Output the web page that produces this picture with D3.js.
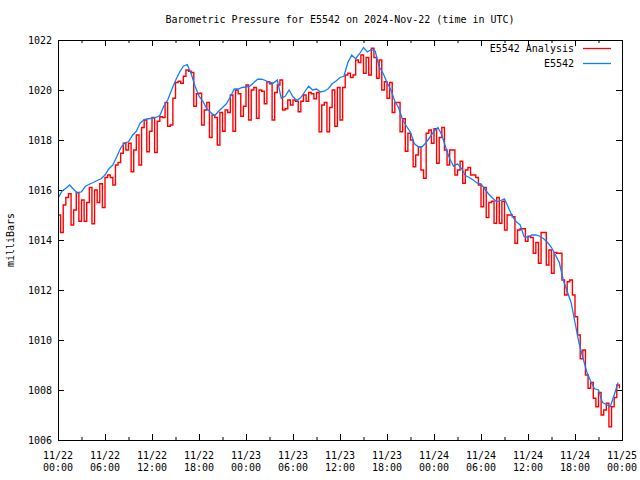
<!DOCTYPE html>
<html><head><meta charset="utf-8">
<script src="https://cdn.jsdelivr.net/npm/d3@7"></script>
<style>
body{margin:0;background:#fff}
svg{display:block}
text{font-family:"DejaVu Sans Mono","Liberation Mono",monospace;font-size:10px;fill:#000}
</style>
</head><body>
<svg id="c" width="640" height="480"></svg>
<script>
const title = "Barometric Pressure for E5542 on 2024-Nov-22 (time in UTC)";
const yLabel = "milliBars";
const seriesNames = ["E5542 Analysis", "E5542"];
const seriesColors = ["#ff0000", "#0c80ff"];

const xTickHours = [0, 6, 12, 18, 24, 30, 36, 42, 48, 54, 60, 66, 72];
const xTickDates = ["11/22","11/22","11/22","11/22","11/23","11/23","11/23","11/23","11/24","11/24","11/24","11/24","11/25"];
const xTickTimes = ["00:00","06:00","12:00","18:00","00:00","06:00","12:00","18:00","00:00","06:00","12:00","18:00","00:00"];
const yTicks = [1006, 1008, 1010, 1012, 1014, 1016, 1018, 1020, 1022];

// E5542 Analysis: one value every 20 minutes from 11/22 00:00
const analysisStepHours = 1 / 3;
const analysis = [
1015.0,1014.3,1015.4,1015.7,1015.85,1014.6,1015.2,1015.9,1014.75,1015.6,
1014.75,1015.5,1016.1,1014.65,1016.0,1015.5,1016.25,1015.3,1016.5,1016.6,
1016.5,1016.2,1017.0,1017.1,1017.47,1017.87,1017.6,1017.87,1016.73,1017.6,
1018.2,1017.0,1018.5,1018.8,1017.53,1018.35,1018.9,1017.5,1018.75,1018.93,
1018.9,1019.5,1018.55,1018.6,1019.67,1020.3,1020.35,1020.27,1020.55,1020.8,
1020.75,1020.7,1019.35,1019.85,1019.87,1018.6,1019.2,1019.5,1018.1,1019.0,
1018.9,1017.8,1019.1,1018.35,1019.2,1019.1,1019.8,1018.35,1020.0,1019.85,
1018.95,1019.35,1020.2,1018.8,1020.0,1020.1,1018.87,1020.0,1019.95,1019.45,
1020.33,1020.25,1018.8,1019.9,1020.2,1020.4,1019.2,1019.25,1019.6,1019.4,
1019.6,1019.55,1019.13,1019.55,1019.8,1019.55,1019.9,1019.85,1019.65,1019.9,
1018.33,1019.4,1019.5,1018.33,1019.3,1020.0,1018.55,1020.1,1018.8,1020.1,
1020.6,1020.67,1020.5,1020.6,1021.2,1021.1,1021.4,1020.67,1021.3,1020.6,
1021.67,1021.3,1020.47,1021.2,1020.0,1020.33,1019.67,1020.3,1019.1,1019.5,
1019.5,1018.33,1018.85,1017.55,1018.27,1018.0,1016.93,1017.4,1017.73,1016.8,
1016.47,1018.27,1018.4,1017.87,1018.45,1017.07,1018.1,1018.5,1017.6,1017.0,
1017.6,1017.6,1016.6,1016.8,1017.15,1016.27,1016.8,1016.9,1016.6,1016.6,
1016.5,1016.2,1015.33,1016.1,1014.9,1015.5,1015.55,1014.67,1015.7,1014.67,
1015.55,1014.4,1015.0,1015.0,1014.93,1013.87,1014.4,1014.45,1014.45,1013.95,
1014.15,1014.1,1013.47,1013.9,1013.07,1014.3,1014.3,1013.0,1013.6,1012.67,
1013.5,1013.47,1013.47,1012.4,1011.8,1012.33,1012.4,1011.8,1010.93,1010.2,
1009.25,1009.6,1008.6,1008.07,1008.3,1007.67,1007.33,1007.9,1007.0,1007.2,
1007.47,1006.53,1007.33,1007.7,1008.2,1008.07
];

// E5542 station: one value every 30 minutes from 11/22 00:00
const stationStepHours = 0.5;
const station = [
1015.67,1015.95,1016.07,1016.2,1016.02,1015.88,1015.93,1016.15,1016.23,1016.3,
1016.38,1016.45,1016.6,1016.85,1017.0,1017.33,1017.68,1017.88,1017.93,1018.18,
1018.35,1018.68,1018.82,1018.85,1018.87,1018.9,1018.98,1019.35,1019.6,1020.0,
1020.38,1020.7,1020.95,1021.02,1020.65,1020.15,1019.75,1019.55,1019.25,1019.1,
1018.97,1019.15,1019.3,1019.45,1019.72,1020.04,1020.04,1020.1,1020.12,1020.15,
1020.3,1020.43,1020.43,1020.38,1020.3,1020.28,1020.4,1019.67,1019.75,1020.0,
1019.73,1019.58,1019.7,1019.93,1020.15,1020.0,1020.04,1019.92,1019.95,1020.05,
1020.25,1020.36,1020.5,1020.55,1021.1,1021.4,1021.25,1021.45,1021.7,1021.52,
1021.62,1021.55,1020.93,1020.67,1020.3,1020.0,1019.55,1019.28,1018.8,1018.55,
1018.3,1017.85,1017.73,1017.73,1017.9,1018.12,1018.35,1018.5,1018.2,1017.7,
1017.25,1016.95,1017.05,1016.87,1016.58,1016.5,1016.4,1016.28,1016.25,1016.03,
1015.83,1015.67,1015.53,1015.58,1015.65,1015.3,1014.95,1014.73,1014.6,1014.13,
1014.1,1014.2,1014.2,1014.15,1014.05,1013.9,1013.7,1013.4,1013.1,1012.4,
1011.95,1011.5,1010.7,1009.9,1009.3,1008.73,1008.35,1008.05,1008.0,1007.5,
1007.42,1007.33,1007.8,1008.3
];

const m = {l: 58, r: 622, t: 40, b: 440};
const x = d3.scaleLinear().domain([0, 72]).range([m.l, m.r]);
const y = d3.scaleLinear().domain([1006, 1022]).range([m.b, m.t]);
const svg = d3.select("#c");

svg.append("defs").append("clipPath").attr("id", "clip")
  .append("rect").attr("x", m.l).attr("y", m.t).attr("width", m.r - m.l).attr("height", m.b - m.t);

const noDomain = g => g.select(".domain").remove();
const minorHours = d3.range(3, 72, 6);

svg.append("g").attr("transform", `translate(0,${m.b})`)
  .call(d3.axisBottom(x).tickValues(xTickHours).tickSize(-6).tickFormat("")).call(noDomain);
svg.append("g").attr("transform", `translate(0,${m.b})`)
  .call(d3.axisBottom(x).tickValues(minorHours).tickSize(-3).tickFormat("")).call(noDomain);
svg.append("g").attr("transform", `translate(0,${m.t})`)
  .call(d3.axisTop(x).tickValues(xTickHours).tickSize(-6).tickFormat("")).call(noDomain);
svg.append("g").attr("transform", `translate(0,${m.t})`)
  .call(d3.axisTop(x).tickValues(minorHours).tickSize(-3).tickFormat("")).call(noDomain);
svg.append("g").attr("transform", `translate(${m.l},0)`)
  .call(d3.axisLeft(y).tickValues(yTicks).tickSize(-6).tickFormat("")).call(noDomain);
svg.append("g").attr("transform", `translate(${m.r},0)`)
  .call(d3.axisRight(y).tickValues(yTicks).tickSize(-6).tickFormat("")).call(noDomain);
svg.selectAll(".tick line").attr("stroke", "#000");

// y tick labels
svg.append("g").selectAll("text").data(yTicks).join("text")
  .attr("x", m.l - 6).attr("y", d => y(d)).attr("dy", "0.35em")
  .attr("text-anchor", "end").text(d => d);

// x tick labels (two lines)
const xl = svg.append("g").selectAll("g").data(xTickHours).join("g")
  .attr("transform", d => `translate(${x(d)},0)`);
xl.append("text").attr("y", 459).attr("text-anchor", "middle").text((d, i) => xTickDates[i]);
xl.append("text").attr("y", 471).attr("text-anchor", "middle").text((d, i) => xTickTimes[i]);

// title & y label
svg.append("text").attr("x", (m.l + m.r) / 2).attr("y", 23).attr("text-anchor", "middle").text(title);
svg.append("text").attr("transform", `translate(14,${(m.t + m.b) / 2}) rotate(-90)`)
  .attr("text-anchor", "middle").text(yLabel);

// series
const plot = svg.append("g").attr("clip-path", "url(#clip)");
const lineA = d3.line().x((d, i) => x(i * analysisStepHours)).y(d => y(d)).curve(d3.curveStepAfter);
const lineS = d3.line().x((d, i) => x(i * stationStepHours)).y(d => y(d));
plot.append("path").datum(analysis).attr("d", lineA)
  .attr("fill", "none").attr("stroke", seriesColors[0]).attr("stroke-width", 1.4);
plot.append("path").datum(station).attr("d", lineS)
  .attr("fill", "none").attr("stroke", seriesColors[1]).attr("stroke-width", 1.3);

// frame
svg.append("rect").attr("x", m.l + 0.5).attr("y", m.t + 0.5)
  .attr("width", m.r - m.l).attr("height", m.b - m.t)
  .attr("fill", "none").attr("stroke", "#000").attr("stroke-width", 1);

// legend
const lg = svg.append("g").selectAll("g").data(seriesNames).join("g")
  .attr("transform", (d, i) => `translate(0,${48 + i * 15})`);
lg.append("text").attr("x", 574).attr("dy", "0.35em").attr("text-anchor", "end").text(d => d);
lg.append("line").attr("x1", 583).attr("x2", 611).attr("y1", 0.5).attr("y2", 0.5)
  .attr("stroke", (d, i) => seriesColors[i]).attr("stroke-width", 1.3);
</script>
</body></html>
